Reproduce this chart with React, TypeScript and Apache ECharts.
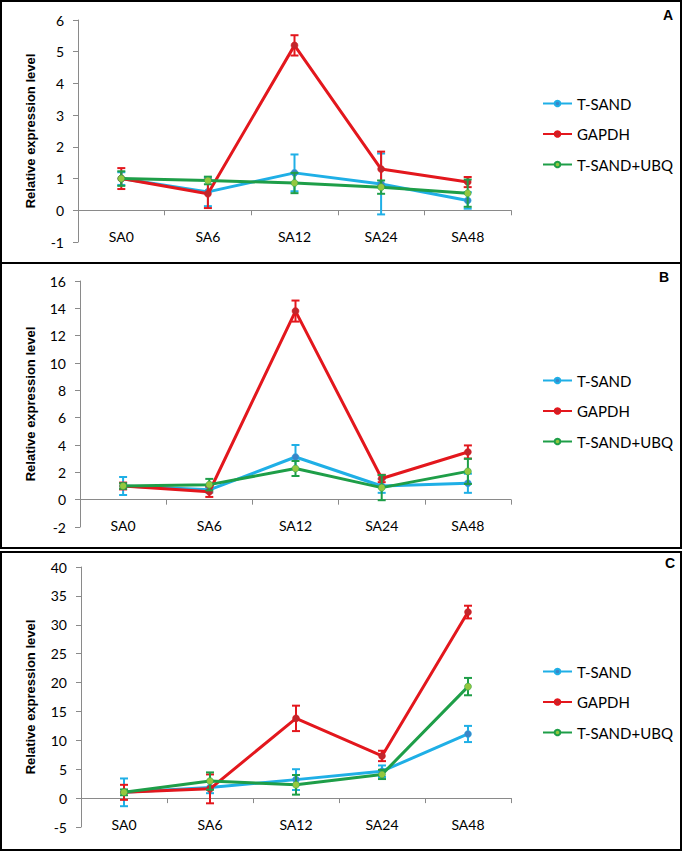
import React, { useEffect, useRef } from 'react';
import * as echarts from 'echarts';

const categories = ['SA0', 'SA6', 'SA12', 'SA24', 'SA48'];
const seriesNames = ['T-SAND', 'GAPDH', 'T-SAND+UBQ'];
const panelLetters = ['A', 'B', 'C'];
const yAxisTitle = 'Relative expression level';

// Panel A
const aTSand = [1.0, 0.58, 1.18, 0.83, 0.31];
const aTSandErr = [0.2, 0.45, 0.58, 0.96, 0.26];
const aGapdh = [1.0, 0.52, 5.2, 1.3, 0.89];
const aGapdhErr = [0.33, 0.45, 0.32, 0.55, 0.16];
const aUbq = [1.0, 0.94, 0.86, 0.73, 0.54];
const aUbqErr = [0.23, 0.12, 0.32, 0.21, 0.43];

// Panel B
const bTSand = [1.0, 0.72, 3.12, 1.0, 1.2];
const bTSandErr = [0.66, 0.2, 0.88, 0.5, 0.7];
const bGapdh = [1.0, 0.58, 13.8, 1.55, 3.49];
const bGapdhErr = [0.25, 0.38, 0.77, 0.27, 0.48];
const bUbq = [1.0, 1.1, 2.28, 0.88, 2.07];
const bUbqErr = [0.2, 0.42, 0.55, 0.92, 0.92];

// Panel C
const cTSand = [1.0, 1.85, 3.2, 4.65, 11.1];
const cTSandErr = [2.4, 1.0, 1.8, 1.0, 1.4];
const cGapdh = [1.0, 1.6, 13.8, 7.3, 32.2];
const cGapdhErr = [1.3, 2.5, 2.2, 0.9, 1.1];
const cUbq = [1.0, 2.95, 2.3, 4.1, 19.3];
const cUbqErr = [0.5, 1.5, 1.7, 0.8, 1.5];

// Axis ranges
const yMins = [-1, -2, -5];
const yMaxs = [6, 16, 40];
const yIntervals = [1, 2, 5];

const panelValues = [
  [aTSand, aGapdh, aUbq],
  [bTSand, bGapdh, bUbq],
  [cTSand, cGapdh, cUbq],
];
const panelErrors = [
  [aTSandErr, aGapdhErr, aUbqErr],
  [bTSandErr, bGapdhErr, bUbqErr],
  [cTSandErr, cGapdhErr, cUbqErr],
];

const lineColors = ['#1FAFE6', '#E3171D', '#1E9E48'];
const markerColors = ['#3A86C8', '#C1262C', '#94C73F'];

const grids = [
  { left: 78, top: 20, width: 433, height: 222, nameGap: 41, legendTop: 91, letter: [668, 15] },
  { left: 80, top: 281, width: 431, height: 246, nameGap: 43, legendTop: 368, letter: [664, 277] },
  { left: 81, top: 567, width: 430, height: 260, nameGap: 44, legendTop: 659, letter: [670, 563] },
];

const FONT = 'Lato, "Open Sans", sans-serif';
const AXIS_GRAY = '#8a8a8a';

export default function App() {
  const ref = useRef<HTMLDivElement>(null);

  useEffect(() => {
    if (!ref.current) return;
    const chart = echarts.init(ref.current, undefined, { renderer: 'svg' });

    const grid: any[] = [];
    const xAxis: any[] = [];
    const yAxis: any[] = [];
    const legend: any[] = [];
    const series: any[] = [];
    const graphic: any[] = [];

    grids.forEach((g, p) => {
      grid.push({ left: g.left, top: g.top, width: g.width, height: g.height });
      // distance (px) from the bottom of the grid up to the zero line
      const zeroOffset = (-yMins[p] / (yMaxs[p] - yMins[p])) * g.height;
      // labelled axis (labels sit below the zero line like the Excel chart)
      xAxis.push({
        type: 'category',
        gridIndex: p,
        data: categories,
        boundaryGap: true,
        position: 'bottom',
        offset: -zeroOffset,
        axisLine: { show: false, onZero: false },
        axisTick: { show: false },
        axisLabel: { margin: 19, color: '#000', fontFamily: FONT, fontSize: 14 },
        splitLine: { show: false },
      });
      // zero line axis with ticks
      xAxis.push({
        type: 'category',
        gridIndex: p,
        data: categories,
        boundaryGap: true,
        position: 'bottom',
        axisLine: { show: true, onZero: true, lineStyle: { color: AXIS_GRAY, width: 1 } },
        axisTick: { show: true, inside: false, length: 5, lineStyle: { color: AXIS_GRAY } },
        axisLabel: { show: false },
        splitLine: { show: false },
      });
      yAxis.push({
        type: 'value',
        gridIndex: p,
        min: yMins[p],
        max: yMaxs[p],
        interval: yIntervals[p],
        name: yAxisTitle,
        nameLocation: 'middle',
        nameGap: g.nameGap,
        nameTextStyle: {
          fontFamily: '"Liberation Sans", Arial, sans-serif',
          fontWeight: 'bold',
          fontSize: 13,
          color: '#000',
        },
        axisLine: { show: true, lineStyle: { color: AXIS_GRAY, width: 1 } },
        axisTick: { show: true, inside: false, length: 5, lineStyle: { color: AXIS_GRAY } },
        axisLabel: { margin: 14, color: '#000', fontFamily: FONT, fontSize: 14 },
        splitLine: { show: false },
      });
      legend.push({
        data: seriesNames,
        orient: 'vertical',
        left: 537,
        top: g.legendTop,
        itemWidth: 29,
        itemHeight: 7,
        itemGap: 15.5,
        selectedMode: false,
        textStyle: { fontFamily: FONT, fontSize: 15, color: '#000' },
      });

      seriesNames.forEach((name, s) => {
        const vals = panelValues[p][s];
        const errs = panelErrors[p][s];
        series.push({
          type: 'line',
          name,
          xAxisIndex: 2 * p,
          yAxisIndex: p,
          data: vals,
          symbol: 'circle',
          symbolSize: 7,
          showSymbol: true,
          lineStyle: { color: lineColors[s], width: 3 },
          itemStyle: { color: markerColors[s], borderColor: lineColors[s], borderWidth: 0.5 },
          z: 2 + s,
        });
        const color = lineColors[s];
        series.push({
          type: 'custom',
          name: `err-${p}-${name}`,
          xAxisIndex: 2 * p,
          yAxisIndex: p,
          data: vals.map((v, i) => [i, v - errs[i], v + errs[i]]),
          encode: { x: 0, y: [1, 2] },
          z: 2 + s,
          silent: true,
          renderItem: (params: any, api: any) => {
            const i = api.value(0);
            const lo = api.coord([i, api.value(1)]);
            const hi = api.coord([i, api.value(2)]);
            const w = 4;
            const style = { stroke: color, lineWidth: 2 };
            return {
              type: 'group',
              children: [
                { type: 'line', shape: { x1: lo[0], y1: lo[1], x2: hi[0], y2: hi[1] }, style },
                { type: 'line', shape: { x1: lo[0] - w, y1: lo[1], x2: lo[0] + w, y2: lo[1] }, style },
                { type: 'line', shape: { x1: hi[0] - w, y1: hi[1], x2: hi[0] + w, y2: hi[1] }, style },
              ],
            };
          },
        });
      });

      graphic.push({
        type: 'text',
        x: g.letter[0],
        y: g.letter[1],
        style: {
          text: panelLetters[p],
          font: 'bold 14px "Liberation Sans", Arial, sans-serif',
          fill: '#000',
          align: 'center',
          verticalAlign: 'middle',
        },
      });
    });

    // panel frames
    graphic.push(
      { type: 'rect', shape: { x: 1, y: 1, width: 680, height: 262 }, style: { fill: 'none', stroke: '#000', lineWidth: 2 } },
      { type: 'rect', shape: { x: 1, y: 263, width: 680, height: 285 }, style: { fill: 'none', stroke: '#000', lineWidth: 2 } },
      { type: 'rect', shape: { x: 1, y: 552, width: 680, height: 298 }, style: { fill: 'none', stroke: '#000', lineWidth: 2 } },
    );

    chart.setOption({
      animation: false,
      backgroundColor: '#fff',
      grid,
      xAxis,
      yAxis,
      legend,
      series,
      graphic,
    });

    return () => {
      chart.dispose();
    };
  }, []);

  return (
    <div
      ref={ref}
      style={{ position: 'fixed', left: 0, top: 0, width: 682, height: 852, background: '#fff' }}
    />
  );
}
